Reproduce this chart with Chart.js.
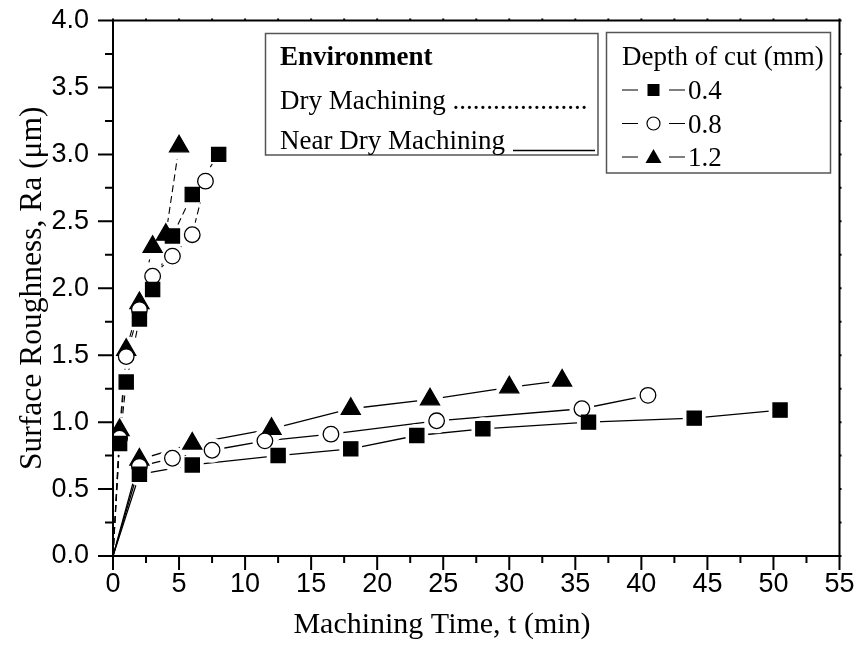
<!DOCTYPE html>
<html>
<head>
<meta charset="utf-8">
<script src="https://cdn.jsdelivr.net/npm/chart.js@4.4.1/dist/chart.umd.min.js"></script>
<style>
  html, body { margin: 0; padding: 0; background: #ffffff; }
  #wrap { position: relative; width: 856px; height: 649px; }
</style>
</head>
<body>
<div id="wrap"><canvas id="c" width="856" height="649"></canvas></div>
<script>
// ---------------- DATA ----------------
const xTickValues = [0, 5, 10, 15, 20, 25, 30, 35, 40, 45, 50, 55];
const yTickValues = [0.0, 0.5, 1.0, 1.5, 2.0, 2.5, 3.0, 3.5, 4.0];

const envTitle = 'Environment';
const envLabels = ['Dry Machining', 'Near Dry Machining'];
const depthTitle = 'Depth of cut (mm)';
const depthLabels = ['0.4', '0.8', '1.2'];

// Dry machining (dotted lines)
const dryTime04 = [0, 0.5, 1, 2, 3, 4.5, 6, 8];
const dryRa04   = [0, 0.84, 1.30, 1.77, 1.99, 2.39, 2.70, 3.00];
const dryTime08 = [0, 0.5, 1, 2, 3, 4.5, 6, 7];
const dryRa08   = [0, 0.88, 1.49, 1.84, 2.09, 2.24, 2.40, 2.80];
const dryTime12 = [0, 0.5, 1, 2, 3, 4, 5];
const dryRa12   = [0, 0.94, 1.54, 1.89, 2.31, 2.40, 3.06];

// Near dry machining (solid lines)
const ndTime04 = [0, 2, 6, 12.5, 18, 23, 28, 36, 44, 50.5];
const ndRa04   = [0, 0.61, 0.68, 0.75, 0.80, 0.90, 0.95, 1.00, 1.03, 1.09];
const ndTime08 = [0, 2, 4.5, 7.5, 11.5, 16.5, 24.5, 35.5, 40.5];
const ndRa08   = [0, 0.67, 0.73, 0.79, 0.86, 0.91, 1.01, 1.10, 1.20];
const ndTime12 = [0, 2, 6, 12, 18, 24, 30, 34];
const ndRa12   = [0, 0.72, 0.84, 0.95, 1.10, 1.17, 1.26, 1.31];

// ---------------- BUILD ----------------
function pts(xs, ys) { return xs.map((x, i) => ({ x: x, y: ys[i] })); }

const markerDefs = [
  { style: 'rect',     radius: 10,  fill: '#000000', halo: 11.5 },
  { style: 'circle',   radius: 7.8, fill: '#ffffff', halo: 12.5 },
  { style: 'triangle', radius: 11,  fill: '#000000', halo: 13 }
];

const seriesList = [
  { t: dryTime04, r: dryRa04, m: 0, dash: [7, 4], w: 1.1 },
  { t: dryTime08, r: dryRa08, m: 1, dash: [7, 4], w: 1.1 },
  { t: dryTime12, r: dryRa12, m: 2, dash: [7, 4], w: 1.1 },
  { t: ndTime04,  r: ndRa04,  m: 0, dash: [],     w: 1.3 },
  { t: ndTime08,  r: ndRa08,  m: 1, dash: [],     w: 1.3 },
  { t: ndTime12,  r: ndRa12,  m: 2, dash: [],     w: 1.3 }
];

const datasets = [];
seriesList.forEach(s => {
  const d = pts(s.t, s.r);
  const md = markerDefs[s.m];
  datasets.push({
    data: d, showLine: true, borderColor: '#000', borderWidth: s.w, borderDash: s.dash,
    pointRadius: 0, order: 3, fill: false, tension: 0
  });
  datasets.push({
    data: d, showLine: false, pointStyle: 'circle',
    pointRadius: c => c.dataIndex === 0 ? 0 : md.halo,
    pointBackgroundColor: '#fff', pointBorderWidth: 0, pointBorderColor: '#fff', order: 2
  });
  datasets.push({
    data: d, showLine: false, pointStyle: md.style,
    pointRadius: c => c.dataIndex === 0 ? 0 : md.radius,
    pointBackgroundColor: md.fill, pointBorderColor: '#000', pointBorderWidth: 1.3, order: 1
  });
});

const SERIF = '"Liberation Serif", "Times New Roman", serif';
const SANS = '"Liberation Sans", Arial, sans-serif';

const framePlugin = {
  id: 'frame',
  afterDatasetsDraw(chart) {
    const ctx = chart.ctx;
    const a = chart.chartArea;
    const xs = chart.scales.x, ys = chart.scales.y;
    ctx.save();
    ctx.strokeStyle = '#000';
    ctx.lineWidth = 2;
    ctx.strokeRect(a.left, a.top, a.right - a.left, a.bottom - a.top);
    ctx.lineWidth = 2;
    ctx.beginPath();
    for (let v = 0; v <= 55 + 1e-9; v += 2.5) {
      const px = xs.getPixelForValue(v);
      const major = Math.abs(v / 5 - Math.round(v / 5)) < 1e-9;
      ctx.moveTo(px, a.bottom);
      ctx.lineTo(px, a.bottom + (major ? 14 : 7));
      ctx.moveTo(px, a.top);
      ctx.lineTo(px, a.top - 2);
    }
    for (let v = 0; v <= 4 + 1e-9; v += 0.25) {
      const py = ys.getPixelForValue(v);
      const major = Math.abs(v / 0.5 - Math.round(v / 0.5)) < 1e-9;
      ctx.moveTo(a.left, py);
      ctx.lineTo(a.left - (major ? 15 : 8), py);
      ctx.moveTo(a.right, py);
      ctx.lineTo(a.right + 2, py);
    }
    ctx.stroke();
    ctx.restore();
  },
  afterDraw(chart) {
    const ctx = chart.ctx;
    ctx.save();
    ctx.fillStyle = '#000';
    ctx.textAlign = 'center';
    ctx.textBaseline = 'alphabetic';
    ctx.font = '30px ' + SERIF;
    ctx.fillText('Machining Time, t (min)', 442, 633);

    // Environment legend box
    ctx.strokeStyle = '#555';
    ctx.lineWidth = 1.5;
    ctx.strokeRect(265.5, 33.5, 332.5, 121.5);
    ctx.textAlign = 'left';
    ctx.font = 'bold 27px ' + SERIF;
    ctx.fillText(envTitle, 280, 65);
    ctx.font = '27px ' + SERIF;
    let txt = envLabels[0] + ' ';
    while (ctx.measureText(txt + '.').width < 308) txt += '.';
    ctx.fillText(txt, 280, 109);
    ctx.fillText(envLabels[1], 280, 149);
    ctx.strokeStyle = '#000';
    ctx.lineWidth = 1.5;
    ctx.beginPath();
    ctx.moveTo(513, 150.5); ctx.lineTo(595, 150.5);
    ctx.stroke();

    // Depth of cut legend box
    ctx.strokeStyle = '#555';
    ctx.lineWidth = 1.5;
    ctx.strokeRect(606.5, 32.5, 224, 140.5);
    ctx.font = '27px ' + SERIF;
    ctx.fillText(depthTitle, 622, 65);
    const rowY = [90, 123.5, 157];
    depthLabels.forEach((lab, i) => {
      const y = rowY[i];
      ctx.strokeStyle = '#000';
      ctx.lineWidth = 1.2;
      ctx.beginPath();
      ctx.moveTo(622, y); ctx.lineTo(638, y);
      ctx.moveTo(669, y); ctx.lineTo(685, y);
      ctx.stroke();
      if (i === 0) {
        ctx.fillStyle = '#000';
        ctx.fillRect(647.5, y - 6, 12, 12);
      } else if (i === 1) {
        ctx.fillStyle = '#fff';
        ctx.beginPath(); ctx.arc(653.5, y, 6.5, 0, Math.PI * 2); ctx.fill(); ctx.stroke();
      } else {
        ctx.fillStyle = '#000';
        ctx.beginPath();
        ctx.moveTo(653.5, y - 8); ctx.lineTo(661.5, y + 6); ctx.lineTo(645.5, y + 6);
        ctx.closePath(); ctx.fill();
      }
      ctx.fillStyle = '#000';
      ctx.fillText(lab, 688, y + 9);
    });
    ctx.restore();
  }
};

new Chart(document.getElementById('c'), {
  type: 'scatter',
  data: { datasets: datasets },
  plugins: [framePlugin],
  options: {
    responsive: false,
    animation: false,
    devicePixelRatio: 1,
    layout: { padding: { top: 20.5, right: 16.5, left: 0, bottom: 0 } },
    plugins: { legend: { display: false }, tooltip: { enabled: false } },
    scales: {
      x: {
        type: 'linear', min: 0, max: 55,
        grid: { display: false, drawTicks: false, tickLength: 0 },
        border: { display: false },
        afterBuildTicks: s => { s.ticks = xTickValues.map(v => ({ value: v })); },
        ticks: { color: '#000', font: { family: SANS, size: 27 }, padding: 12, maxRotation: 0, autoSkip: false,
                 callback: v => String(v) },
        afterFit: s => { s.height = 93; s.paddingLeft = 0; s.paddingRight = 0; }
      },
      y: {
        type: 'linear', min: 0, max: 4,
        grid: { display: false, drawTicks: false, tickLength: 0 },
        border: { display: false },
        afterBuildTicks: s => { s.ticks = yTickValues.map(v => ({ value: v })); },
        ticks: { color: '#000', font: { family: SANS, size: 27 }, padding: 24, autoSkip: false,
                 callback: v => Number(v).toFixed(1) },
        title: { display: true, text: 'Surface Roughness, Ra (\u03bcm)', color: '#000',
                 font: { family: SERIF, size: 31.5, weight: 'normal' }, padding: { top: 14, bottom: 0 } },
        afterFit: s => { s.width = 113; s.paddingTop = 0; s.paddingBottom = 0; }
      }
    }
  }
});
</script>
</body>
</html>
